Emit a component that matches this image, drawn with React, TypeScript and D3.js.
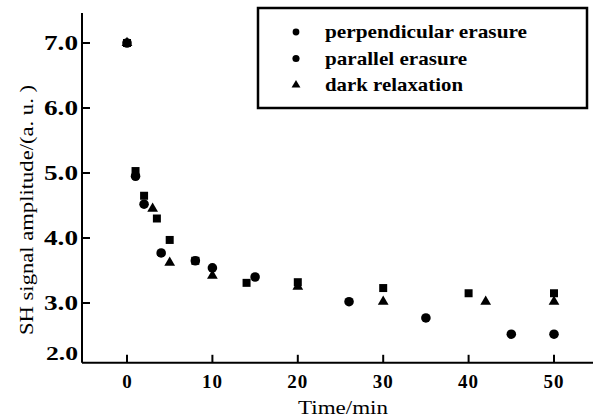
import React from 'react';
import * as d3 from 'd3';

// perpendicular erasure (squares)
const perpT = [0, 1, 2, 3.5, 5, 8, 14, 20, 30, 40, 50];
const perpV = [7.0, 5.03, 4.65, 4.3, 3.97, 3.65, 3.31, 3.32, 3.23, 3.15, 3.15];
// parallel erasure (circles)
const paraT = [0, 1, 2, 4, 8, 10, 15, 26, 35, 45, 50];
const paraV = [7.0, 4.95, 4.52, 3.77, 3.65, 3.54, 3.4, 3.02, 2.77, 2.52, 2.52];
// dark relaxation (triangles)
const darkT = [0, 3, 5, 10, 20, 30, 42, 50];
const darkV = [7.0, 4.45, 3.62, 3.42, 3.25, 3.02, 3.02, 3.02];

const xTicks = [0, 10, 20, 30, 40, 50];
const yTicks = [3, 4, 5, 6, 7];
const legendLabels = ['perpendicular erasure', 'parallel erasure', 'dark relaxation'];

const W = 606;
const H = 419;
const font = '"Times New Roman", "Liberation Serif", serif';

const App = () => {
  const x = d3.scaleLinear().domain([0, 50]).range([127, 554]);
  const y = d3.scaleLinear().domain([3, 7]).range([303, 43]);
  const yBottom = y(2.08);
  const left = 82;
  const right = 593;

  const square = d3.symbol(d3.symbolSquare, 64)();
  const circle = d3.symbol(d3.symbolCircle, 72)();
  const tri = d3.symbol(d3.symbolTriangle, 50)();

  const series = [
    { t: perpT, v: perpV, path: square },
    { t: paraT, v: paraV, path: circle },
    { t: darkT, v: darkV, path: tri },
  ];

  const legendMarks = [
    d3.symbol(d3.symbolCircle, 36)(),
    d3.symbol(d3.symbolCircle, 40)(),
    d3.symbol(d3.symbolTriangle, 34)(),
  ];

  return (
    <svg width={W} height={H} style={{ position: 'absolute', left: 0, top: 0, background: '#fff' }}>
      {/* axes */}
      <line x1={left} x2={left} y1={13} y2={yBottom} stroke="#000" strokeWidth={2} />
      <line x1={left} x2={right} y1={yBottom} y2={yBottom} stroke="#000" strokeWidth={2} />

      {yTicks.map((t) => (
        <g key={t}>
          <line x1={left} x2={left + 8} y1={y(t)} y2={y(t)} stroke="#000" strokeWidth={2} />
          <text x={78} y={y(t)} dy="0.35em" textAnchor="end" fontFamily={font} fontWeight="bold"
            fontSize={20} textLength={34} lengthAdjust="spacingAndGlyphs">
            {t.toFixed(1)}
          </text>
        </g>
      ))}
      <text x={78} y={yBottom - 9} dy="0.35em" textAnchor="end" fontFamily={font} fontWeight="bold"
        fontSize={19} textLength={32} lengthAdjust="spacingAndGlyphs">
        2.0
      </text>

      {xTicks.map((t) => (
        <g key={t}>
          <line x1={x(t)} x2={x(t)} y1={yBottom} y2={yBottom - 8} stroke="#000" strokeWidth={2} />
          <text x={x(t)} y={381} dy="0.35em" textAnchor="middle" fontFamily={font} fontWeight="bold"
            fontSize={19} letterSpacing={t === 0 ? 0 : 1}>
            {t}
          </text>
        </g>
      ))}

      <text x={343} y={407} dy="0.35em" textAnchor="middle" fontFamily={font} fontSize={19}
        textLength={90} lengthAdjust="spacingAndGlyphs">
        Time/min
      </text>
      <text transform={`translate(26,210) rotate(-90)`} dy="0.35em" textAnchor="middle" fontFamily={font}
        fontSize={19} textLength={250} lengthAdjust="spacingAndGlyphs">
        SH signal amplitude/(a. u. )
      </text>

      {/* points */}
      {series.map((s, i) => (
        <g key={i}>
          {s.t.map((t, j) => (
            <path key={j} d={s.path} transform={`translate(${x(t)},${y(s.v[j])})`} fill="#000" />
          ))}
        </g>
      ))}

      {/* legend */}
      <rect x={258} y={8} width={329} height={100} fill="#fff" stroke="#000" strokeWidth={2.5} />
      {legendLabels.map((lab, i) => (
        <g key={lab} transform={`translate(0,${32 + i * 26.5})`}>
          <path d={legendMarks[i] as string} transform="translate(296,0)" fill="#000" />
          <text x={325} y={0} dy="0.32em" fontFamily={font} fontWeight="bold" fontSize={19}
            textLength={[202, 142, 138][i]} lengthAdjust="spacingAndGlyphs">
            {lab}
          </text>
        </g>
      ))}
    </svg>
  );
};

export default App;
